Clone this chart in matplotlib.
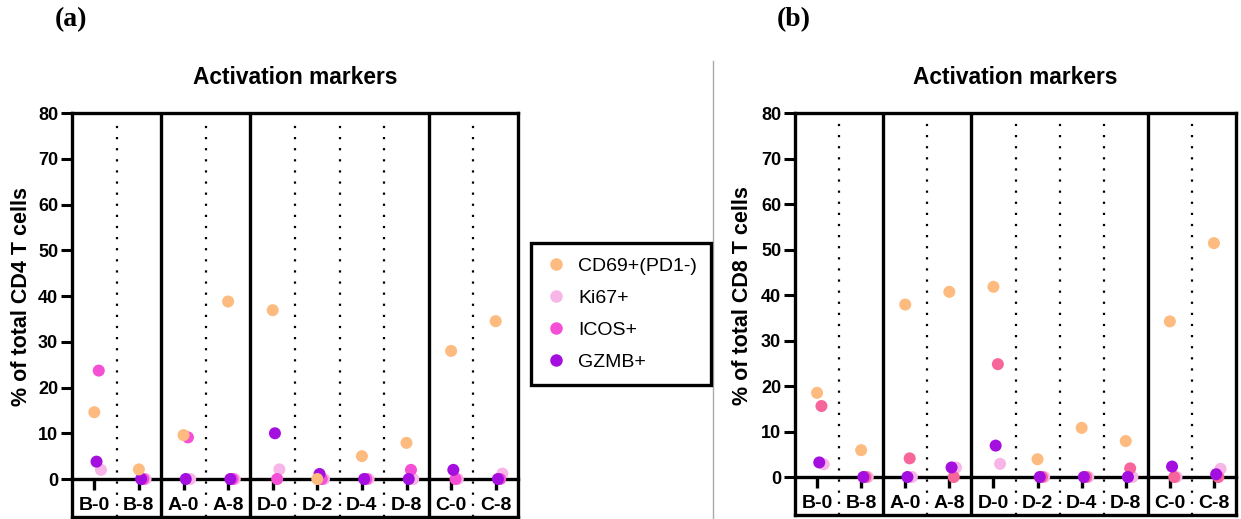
import matplotlib
matplotlib.use('Agg')
import matplotlib.pyplot as plt
from matplotlib.lines import Line2D

plt.rcParams['font.family'] = 'Liberation Sans'

# categories and group layout
categories = ['B-0', 'B-8', 'A-0', 'A-8', 'D-0', 'D-2', 'D-4', 'D-8', 'C-0', 'C-8']
group_sizes = [2, 2, 4, 2]
series = ['CD69+(PD1-)', 'Ki67+', 'ICOS+', 'GZMB+']

# CD4 panel (a)
cd4_cd69 = [14.6, 2.1, 9.6, 38.8, 36.9, 0.0, 5.0, 7.9, 28.0, 34.5]
cd4_ki67 = [2.0, 0.0, 0.0, 0.0, 2.1, 0.0, 0.0, 0.0, 0.0, 1.2]
cd4_icos = [23.7, 0.0, 9.1, 0.0, 0.0, 0.0, 0.0, 2.0, 0.0, 0.0]
cd4_gzmb = [3.8, 0.0, 0.0, 0.0, 10.0, 1.1, 0.0, 0.0, 2.0, 0.0]

# CD8 panel (b)
cd8_cd69 = [18.5, 5.9, 37.9, 40.7, 41.8, 3.9, 10.8, 7.9, 34.2, 51.4]
cd8_ki67 = [2.8, 0.0, 0.0, 2.1, 2.9, 0.0, 0.0, 0.0, 0.0, 1.8]
cd8_icos = [15.6, 0.0, 4.1, 0.0, 24.8, 0.0, 0.0, 1.9, 0.0, 0.0]
cd8_gzmb = [3.2, 0.0, 0.0, 2.1, 6.9, 0.0, 0.0, 0.0, 2.3, 0.6]

col_cd69 = '#FDBB80'
col_ki67 = '#F7B5E8'
col_icos_a = '#F54FD6'
col_icos_b = '#F7669A'
col_gzmb = '#A40FE0'

offsets = {'CD69+(PD1-)': 0.0, 'GZMB+': 0.05, 'ICOS+': 0.1, 'Ki67+': 0.15}

fig = plt.figure(figsize=(12.41, 5.19), dpi=100)


def draw_panel(ax, vals, cols, ylabel, ymin):
    x = list(range(len(categories)))
    # draw order: Ki67, ICOS, GZMB, CD69 on top
    for name in ['Ki67+', 'ICOS+', 'GZMB+', 'CD69+(PD1-)']:
        xs = [i + offsets[name] for i in x]
        ax.scatter(xs, vals[name], s=75, color=cols[name], edgecolors='none',
                   zorder=3, clip_on=False)
    ax.set_xlim(-0.5, len(categories) - 0.5)
    ax.set_ylim(ymin, 80)

    # group boxes and dotted separators
    start = 0
    for g in group_sizes:
        for k in range(1, g):
            ax.axvline(start + k - 0.5, ymax=0.975, color='k', lw=1.6,
                       ls=(0, (1, 4)), zorder=1)
        if start > 0:
            ax.axvline(start - 0.5, color='k', lw=2.4, zorder=2)
        start += g
    ax.axhline(ymin, color='k', lw=2.4, clip_on=False, zorder=2)

    for s in ['left', 'right', 'top']:
        ax.spines[s].set_linewidth(2.4)
    ax.spines['bottom'].set_position(('data', 0))
    ax.spines['bottom'].set_linewidth(2.4)
    ax.spines['left'].set_bounds(ymin, 80)

    ax.set_yticks(range(0, 81, 10))
    ax.set_xticks(x)
    ax.set_xticklabels(categories, fontweight='bold', fontsize=14)
    ax.tick_params(axis='x', length=8, width=2.4, pad=5)
    ax.tick_params(axis='y', length=8, width=2.2, labelsize=13, pad=2)
    for lab in ax.get_yticklabels():
        lab.set_fontweight('bold')
    ax.set_ylabel(ylabel, fontsize=15.5, fontweight='bold')
    ax.set_title('Activation markers', fontsize=16.4, fontweight='bold', pad=21)


ax_a = fig.add_axes([72 / 1241, 2 / 519, 446 / 1241, 404 / 519])
draw_panel(ax_a,
           {'CD69+(PD1-)': cd4_cd69, 'Ki67+': cd4_ki67, 'ICOS+': cd4_icos, 'GZMB+': cd4_gzmb},
           {'CD69+(PD1-)': col_cd69, 'Ki67+': col_ki67, 'ICOS+': col_icos_a, 'GZMB+': col_gzmb},
           '% of total CD4 T cells', -8.3)
ax_a.yaxis.set_label_coords(-0.09, 0.547)

ax_b = fig.add_axes([795 / 1241, 4 / 519, 441 / 1241, 402 / 519])
draw_panel(ax_b,
           {'CD69+(PD1-)': cd8_cd69, 'Ki67+': cd8_ki67, 'ICOS+': cd8_icos, 'GZMB+': cd8_gzmb},
           {'CD69+(PD1-)': col_cd69, 'Ki67+': col_ki67, 'ICOS+': col_icos_b, 'GZMB+': col_gzmb},
           '% of total CD8 T cells', -8.35)
ax_b.yaxis.set_label_coords(-0.095, 0.547)

# legend
handles = [Line2D([], [], marker='o', ls='none', markersize=9, markeredgewidth=0, color=c)
           for c in [col_cd69, col_ki67, col_icos_a, col_gzmb]]
leg = fig.legend(handles, series, loc='center', bbox_to_anchor=(621 / 1241, 1 - 314 / 519),
                 frameon=True, fancybox=False, framealpha=1, fontsize=14,
                 handletextpad=0.6, labelspacing=0.75, borderpad=0.7, handlelength=1.1)
leg.get_frame().set_edgecolor('k')
leg.get_frame().set_linewidth(2.4)

# separator between panels
fig.add_artist(Line2D([713 / 1241, 713 / 1241], [0, 1 - 61 / 519], color='#aaaaaa', lw=1))

# panel labels
fig.text(71 / 1241, 1 - 20 / 519, '(a)', family='Liberation Serif', fontweight='bold',
         fontsize=20, ha='center', va='center')
fig.text(794 / 1241, 1 - 20 / 519, '(b)', family='Liberation Serif', fontweight='bold',
         fontsize=20, ha='center', va='center')

fig.savefig('out.png', dpi=100)
